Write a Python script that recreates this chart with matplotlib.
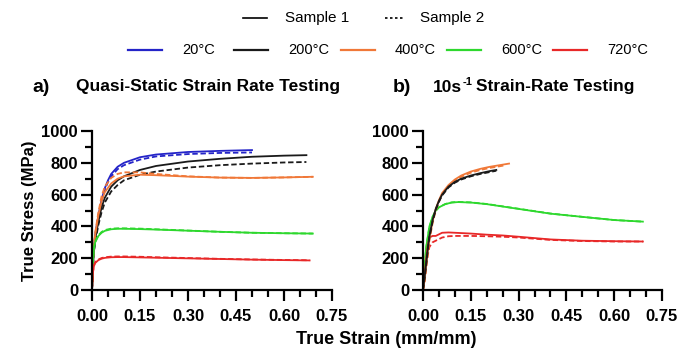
import matplotlib
matplotlib.use('Agg')
import matplotlib.pyplot as plt
from matplotlib.lines import Line2D
from matplotlib.ticker import MultipleLocator

plt.rcParams['font.family'] = ['Liberation Sans', 'DejaVu Sans']

temps = ['20°C', '200°C', '400°C', '600°C', '720°C']
colors = {'20°C': '#2424c8', '200°C': '#1a1a1a', '400°C': '#f07838',
          '600°C': '#2ed82e', '720°C': '#e82828'}

# quasi-static, strain vs stress (MPa); _1 = sample 1, _2 = sample 2
qs_strain_blue = [0, 0.005, 0.01, 0.02, 0.03, 0.04, 0.05, 0.06, 0.08, 0.10, 0.15, 0.20, 0.30, 0.40, 0.50]
qs_blue_1 = [0, 250, 350, 470, 570, 640, 690, 730, 775, 800, 835, 852, 868, 875, 880]
qs_blue_2 = [0, 240, 340, 460, 560, 630, 680, 715, 760, 785, 820, 840, 855, 862, 865]

qs_strain_black = [0, 0.005, 0.01, 0.02, 0.03, 0.04, 0.06, 0.08, 0.10, 0.15, 0.20, 0.30, 0.40, 0.50, 0.60, 0.67]
qs_black_1 = [0, 230, 320, 430, 520, 580, 650, 690, 715, 755, 780, 808, 825, 838, 845, 848]
qs_black_2 = [0, 220, 300, 410, 490, 550, 620, 660, 690, 725, 745, 770, 785, 795, 802, 805]

qs_strain_orange = [0, 0.005, 0.01, 0.02, 0.03, 0.04, 0.06, 0.08, 0.10, 0.15, 0.20, 0.30, 0.40, 0.50, 0.60, 0.69]
qs_orange_1 = [0, 250, 350, 470, 560, 615, 670, 700, 715, 725, 722, 713, 707, 705, 708, 712]
qs_orange_2 = [0, 260, 360, 490, 590, 650, 705, 730, 740, 740, 730, 715, 707, 705, 708, 712]

qs_strain_green = [0, 0.003, 0.006, 0.01, 0.02, 0.03, 0.04, 0.06, 0.08, 0.10, 0.15, 0.20, 0.30, 0.40, 0.50, 0.60, 0.69]
qs_green_1 = [0, 180, 260, 300, 340, 360, 372, 382, 385, 385, 383, 380, 373, 366, 360, 357, 355]
qs_green_2 = [0, 185, 265, 305, 345, 365, 377, 386, 388, 388, 386, 382, 374, 366, 360, 357, 355]

qs_strain_red = [0, 0.003, 0.006, 0.01, 0.02, 0.03, 0.04, 0.06, 0.08, 0.10, 0.15, 0.20, 0.30, 0.40, 0.50, 0.60, 0.68]
qs_red_1 = [0, 110, 150, 170, 188, 197, 202, 206, 207, 207, 205, 203, 199, 195, 191, 188, 186]
qs_red_2 = [0, 115, 155, 175, 192, 201, 206, 210, 211, 211, 209, 206, 201, 196, 192, 189, 187]

# 10/s strain rate
hr_strain_orange_1 = [0, 0.005, 0.01, 0.015, 0.02, 0.03, 0.04, 0.05, 0.06, 0.08, 0.10, 0.12, 0.15, 0.18, 0.21, 0.24, 0.27]
hr_orange_1 = [0, 60, 150, 240, 320, 430, 510, 565, 610, 660, 695, 720, 745, 762, 775, 785, 795]
hr_strain_orange_2 = [0, 0.005, 0.01, 0.015, 0.02, 0.03, 0.04, 0.05, 0.06, 0.08, 0.10, 0.12, 0.15, 0.18, 0.21, 0.24, 0.26]
hr_orange_2 = [0, 50, 140, 230, 310, 420, 500, 555, 600, 652, 688, 712, 738, 755, 768, 778, 785]

hr_strain_black = [0, 0.005, 0.01, 0.015, 0.02, 0.03, 0.04, 0.05, 0.06, 0.08, 0.10, 0.12, 0.15, 0.18, 0.21, 0.23]
hr_black_1 = [0, 80, 170, 260, 340, 440, 510, 560, 600, 650, 680, 700, 720, 735, 748, 755]
hr_black_2 = [0, 75, 160, 250, 330, 430, 505, 555, 595, 645, 675, 695, 715, 730, 742, 750]

hr_strain_green = [0, 0.005, 0.01, 0.02, 0.03, 0.04, 0.05, 0.07, 0.09, 0.11, 0.15, 0.20, 0.25, 0.30, 0.40, 0.50, 0.60, 0.69]
hr_green_1 = [0, 150, 270, 400, 460, 500, 520, 540, 550, 553, 550, 540, 525, 510, 480, 460, 440, 430]
hr_green_2 = [0, 145, 265, 395, 458, 498, 520, 541, 551, 554, 551, 541, 526, 511, 481, 460, 440, 430]

hr_strain_red = [0, 0.005, 0.01, 0.015, 0.02, 0.03, 0.04, 0.05, 0.06, 0.08, 0.10, 0.15, 0.20, 0.25, 0.30, 0.40, 0.50, 0.60, 0.69]
hr_red_1 = [0, 90, 200, 280, 330, 340, 340, 350, 360, 362, 360, 355, 348, 343, 335, 318, 310, 307, 305]
hr_red_2 = [0, 60, 150, 220, 270, 300, 310, 320, 330, 338, 340, 340, 338, 335, 330, 315, 308, 305, 305]

qs_curves = [
    ('20°C', qs_strain_blue, qs_blue_1, qs_strain_blue, qs_blue_2),
    ('200°C', qs_strain_black, qs_black_1, qs_strain_black, qs_black_2),
    ('400°C', qs_strain_orange, qs_orange_1, qs_strain_orange, qs_orange_2),
    ('600°C', qs_strain_green, qs_green_1, qs_strain_green, qs_green_2),
    ('720°C', qs_strain_red, qs_red_1, qs_strain_red, qs_red_2),
]
hr_curves = [
    ('600°C', hr_strain_green, hr_green_1, hr_strain_green, hr_green_2),
    ('720°C', hr_strain_red, hr_red_1, hr_strain_red, hr_red_2),
    ('400°C', hr_strain_orange_1, hr_orange_1, hr_strain_orange_2, hr_orange_2),
    ('200°C', hr_strain_black, hr_black_1, hr_strain_black, hr_black_2),
]

dash = (0, (3, 1.5))
W, H = 680, 358

def fx(px):
    return px / W

def fy(py):
    return 1 - py / H

fig = plt.figure(figsize=(6.8, 3.58), dpi=100)
ax1 = fig.add_axes([fx(92), fy(290), fx(240), 159 / H])
ax2 = fig.add_axes([fx(423), fy(290), fx(239), 159 / H])

for ax, curves in ((ax1, qs_curves), (ax2, hr_curves)):
    for t, x1, s1, x2, s2 in curves:
        ax.plot(x2, s2, color=colors[t], lw=1.3, ls=dash)
        ax.plot(x1, s1, color=colors[t], lw=1.3)

for ax in (ax1, ax2):
    ax.set_xlim(0, 0.75)
    ax.set_ylim(0, 1000)
    ax.spines['top'].set_visible(False)
    ax.spines['right'].set_visible(False)
    for sp in ('left', 'bottom'):
        ax.spines[sp].set_linewidth(1.6)
    ax.xaxis.set_major_locator(MultipleLocator(0.15))
    ax.xaxis.set_minor_locator(MultipleLocator(0.05))
    ax.yaxis.set_major_locator(MultipleLocator(200))
    ax.yaxis.set_minor_locator(MultipleLocator(100))
    ax.xaxis.set_major_formatter(plt.FuncFormatter(lambda v, p: f'{v:.2f}'))
    ax.tick_params(which='major', length=8, width=1.6, labelsize=12)
    ax.tick_params(which='minor', length=5, width=1.6)
    ax.tick_params(axis='x', which='major', pad=6)
    ax.tick_params(axis='y', which='major', pad=2)
    for lab in ax.get_xticklabels() + ax.get_yticklabels():
        lab.set_fontweight('bold')

ax1.set_ylabel('True Stress (MPa)', fontsize=12, fontweight='bold', labelpad=3)
fig.text(fx(386), fy(340), 'True Strain (mm/mm)', ha='center', va='center', fontsize=13, fontweight='bold')

fig.text(fx(32), fy(87), 'a)', fontsize=14, fontweight='bold', va='center')
fig.text(fx(76), fy(87), 'Quasi-Static Strain Rate Testing', fontsize=12.5, fontweight='bold', va='center')
fig.text(fx(393), fy(87), 'b)', fontsize=14, fontweight='bold', va='center')

# "10s^-1 Strain-Rate Testing" pieced together so the superscript stays small
renderer = fig.canvas.get_renderer()
t1 = fig.text(fx(433), fy(87), '10s', fontsize=12.5, fontweight='bold', va='center')
bb = t1.get_window_extent(renderer)
t2 = fig.text((bb.x1 + 0.5) / W, fy(82), '-1', fontsize=8, fontweight='bold', va='center')
bb = t2.get_window_extent(renderer)
fig.text((bb.x1 + 3) / W, fy(87), 'Strain-Rate Testing', fontsize=12.5, fontweight='bold', va='center')

# legend rows drawn by hand so the spacing matches the figure
samples = ['Sample 1', 'Sample 2']
sample_ls = ['-', (0, (1.5, 1.5))]
sample_line_x = [243, 385]
sample_line_len = [24, 20]
sample_text_x = [285, 420]
for lab, ls, lx, ll, tx in zip(samples, sample_ls, sample_line_x, sample_line_len, sample_text_x):
    fig.add_artist(Line2D([fx(lx), fx(lx + ll)], [fy(18), fy(18)], color='black', lw=1.2, ls=ls,
                          transform=fig.transFigure))
    fig.text(fx(tx), fy(18), lab, fontsize=11, va='center')

for i, t in enumerate(temps):
    lx = 128 + i * 106.25
    fig.add_artist(Line2D([fx(lx), fx(lx + 34)], [fy(50), fy(50)], color=colors[t], lw=1.6,
                          transform=fig.transFigure))
    fig.text(fx(lx + 54), fy(50), t, fontsize=10.5, va='center')

fig.savefig('out.png', dpi=100)
